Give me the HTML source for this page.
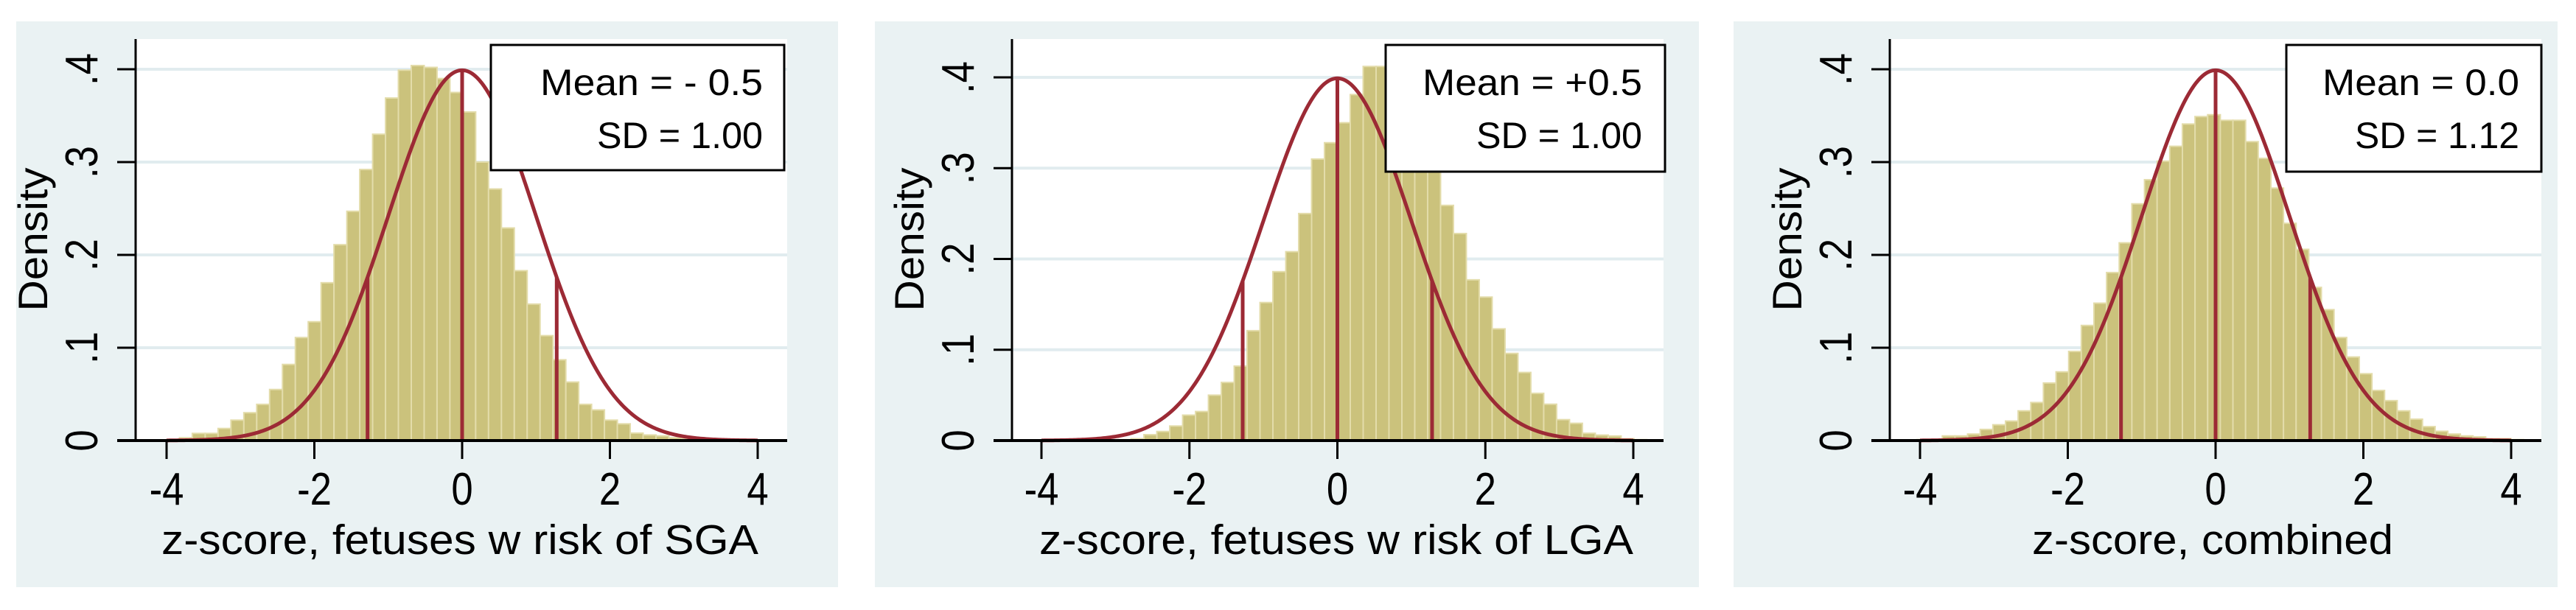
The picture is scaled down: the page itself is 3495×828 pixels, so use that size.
<!DOCTYPE html>
<html><head><meta charset="utf-8"><style>
html,body{margin:0;padding:0;background:#fff;}
svg{display:block;}
text{font-family:"Liberation Sans",sans-serif;fill:#000;}
</style></head><body>
<svg id="fig" width="3495" height="828" viewBox="0 0 3495 828" xmlns="http://www.w3.org/2000/svg"></svg>
<script>
// ---- data ----
const xTicks = [-4, -2, 0, 2, 4];
const yTicks = [0, 0.1, 0.2, 0.3, 0.4];
const yTickLabels = ["0", ".1", ".2", ".3", ".4"];
const cutLines = [-1.28, 0, 1.28];

const binStartSGA = -4.0, binWidthSGA = 0.1743;
const densitySGA = [0.001,0.003,0.0077,0.0077,0.013,0.022,0.030,0.039,0.055,0.082,0.111,0.128,0.170,0.211,0.247,0.292,0.330,0.369,0.399,0.404,0.402,0.390,0.375,0.354,0.300,0.271,0.229,0.183,0.147,0.113,0.087,0.063,0.039,0.033,0.022,0.018,0.008,0.006,0.005,0.003,0.002,0.001];

const binStartLGA = -2.963, binWidthLGA = 0.1743;
const densityLGA = [0.001,0.002,0.0065,0.010,0.016,0.028,0.032,0.050,0.064,0.082,0.121,0.152,0.186,0.208,0.250,0.310,0.328,0.350,0.381,0.412,0.412,0.412,0.375,0.350,0.300,0.259,0.228,0.177,0.158,0.123,0.096,0.075,0.052,0.040,0.023,0.019,0.008,0.006,0.005,0.002,0.001];

const binStartAll = -4.04, binWidthAll = 0.171;
const densityAll = [0.001,0.001,0.005,0.005,0.007,0.012,0.017,0.021,0.032,0.041,0.062,0.074,0.096,0.124,0.148,0.181,0.213,0.255,0.281,0.301,0.317,0.341,0.349,0.351,0.345,0.345,0.322,0.304,0.272,0.234,0.206,0.165,0.141,0.111,0.090,0.072,0.054,0.043,0.032,0.023,0.015,0.010,0.007,0.005,0.004,0.002,0.002,0.001];

const titles = ["z-score, fetuses w risk of SGA", "z-score, fetuses w risk of LGA", "z-score, combined"];
const meanLabels = ["Mean = - 0.5", "Mean = +0.5", "Mean = 0.0"];
const sdLabels = ["SD = 1.00", "SD = 1.00", "SD = 1.12"];

// ---- layout ----
const panels = [
  {bg:[22,1137], ax:184, right:1068, xm4:226, xp4:1028, y0:598, y4:94, box:[666,61,1064,231], txtR:1035, mw:302, sw:225, tx:[219,810],
   bins:densitySGA, start:binStartSGA, w:binWidthSGA},
  {bg:[1187,2305], ax:1373, right:2257, xm4:1413, xp4:2216, y0:598, y4:105, box:[1880,61,2259,233], txtR:2228, mw:298, sw:225, tx:[1410,806],
   bins:densityLGA, start:binStartLGA, w:binWidthLGA},
  {bg:[2352,3470], ax:2564, right:3448, xm4:2605, xp4:3407, y0:598, y4:94, box:[3102,61,3448,233], txtR:3418, mw:267, sw:223, tx:[2757,490],
   bins:densityAll, start:binStartAll, w:binWidthAll}
];
const NS = "http://www.w3.org/2000/svg";
const svg = document.getElementById('fig');
function mk(tag, attrs, parent){
  const e = document.createElementNS(NS, tag);
  for (const k in attrs) e.setAttribute(k, attrs[k]);
  (parent||svg).appendChild(e);
  return e;
}
function pdf(x){ return Math.exp(-x*x/2)/Math.sqrt(2*Math.PI); }

panels.forEach((p, i) => {
  const g = mk('g', {});
  
  
  const xs = v => p.xm4 + (v + 4) * (p.xp4 - p.xm4) / 8;
  const ys = v => p.y0 - v * (p.y0 - p.y4) / 0.4;

  const bg = mk('rect', {x:p.bg[0], y:29, width:p.bg[1]-p.bg[0], height:768, fill:'#eaf2f3'}, g);
  
  
  const pr = mk('rect', {x:p.ax, y:53, width:p.right-p.ax, height:p.y0-53, fill:'#ffffff'}, g);
  
  

  yTicks.forEach((t) => {
    if (t === 0) return;
    const gl = mk('line', {x1:p.ax, x2:p.right, y1:ys(t), y2:ys(t), stroke:'#e1ecef', 'stroke-width':4}, g);
    
    
  });

  p.bins.forEach((v, k) => {
    const x0 = xs(p.start + k * p.w), x1 = xs(p.start + (k+1) * p.w);
    const b = mk('rect', {x:x0, y:ys(v), width:x1-x0, height:p.y0-ys(v), fill:'#cbc27c', stroke:'#e3dcaa', 'stroke-width':2}, g);
    
    
  });

  let d = '';
  for (let k = 0; k <= 400; k++) {
    const x = -4 + 8 * k / 400;
    d += (k ? 'L' : 'M') + xs(x).toFixed(2) + ' ' + ys(pdf(x)).toFixed(2);
  }
  const c = mk('path', {d:d, fill:'none', stroke:'#9c2a35', 'stroke-width':5}, g);
  
  
  cutLines.forEach(z => {
    const l = mk('line', {x1:xs(z), x2:xs(z), y1:p.y0, y2:ys(pdf(z)), stroke:'#9c2a35', 'stroke-width':5}, g);
    
    
  });

  const ya = mk('line', {x1:p.ax, x2:p.ax, y1:53, y2:p.y0+1.5, stroke:'#000', 'stroke-width':3}, g);
  
  
  const xa = mk('line', {x1:p.ax-25, x2:p.right, y1:p.y0, y2:p.y0, stroke:'#000', 'stroke-width':4}, g);
  
  

  yTicks.forEach((t, k) => {
    const tk = mk('line', {x1:p.ax-25, x2:p.ax, y1:ys(t), y2:ys(t), stroke:'#000', 'stroke-width':3}, g);
    
    
    const lx = p.ax - 52, ly = ys(t);
    const tl = mk('text', {x:0, y:0, 'font-size':62, 'text-anchor':'middle', transform:'translate('+lx+' '+ly+') rotate(-90) scale(0.85 1)'}, g);
    tl.textContent = yTickLabels[k];
    
    
  });
  xTicks.forEach(t => {
    const tk = mk('line', {x1:xs(t), x2:xs(t), y1:p.y0, y2:p.y0+25, stroke:'#000', 'stroke-width':3}, g);
    
    
    const tl = mk('text', {x:0, y:0, 'font-size':62, 'text-anchor':'middle', transform:'translate('+xs(t)+' 685) scale(0.85 1)'}, g);
    tl.textContent = String(t);
    
    
  });

  const xt = mk('text', {x:p.tx[0], y:752, 'font-size':57, textLength:p.tx[1], lengthAdjust:'spacingAndGlyphs'}, g);
  xt.textContent = titles[i];
  
  

  const yx = p.ax - 120, yy = 325;
  const yt = mk('text', {x:yx, y:yy, 'font-size':56, 'text-anchor':'middle', textLength:195, lengthAdjust:'spacingAndGlyphs', transform:'rotate(-90 '+yx+' '+yy+')'}, g);
  yt.textContent = 'Density';
  
  

  const bx = mk('rect', {x:p.box[0], y:p.box[1], width:p.box[2]-p.box[0], height:p.box[3]-p.box[1], fill:'#fff', stroke:'#000', 'stroke-width':3}, g);
  
  
  const m = mk('text', {x:p.txtR - p.mw, y:129, 'font-size':50, textLength:p.mw, lengthAdjust:'spacingAndGlyphs'}, g);
  m.textContent = meanLabels[i];
  
  
  const s = mk('text', {x:p.txtR - p.sw, y:201, 'font-size':50, textLength:p.sw, lengthAdjust:'spacingAndGlyphs'}, g);
  s.textContent = sdLabels[i];
  
  
});
</script>
</body></html>
